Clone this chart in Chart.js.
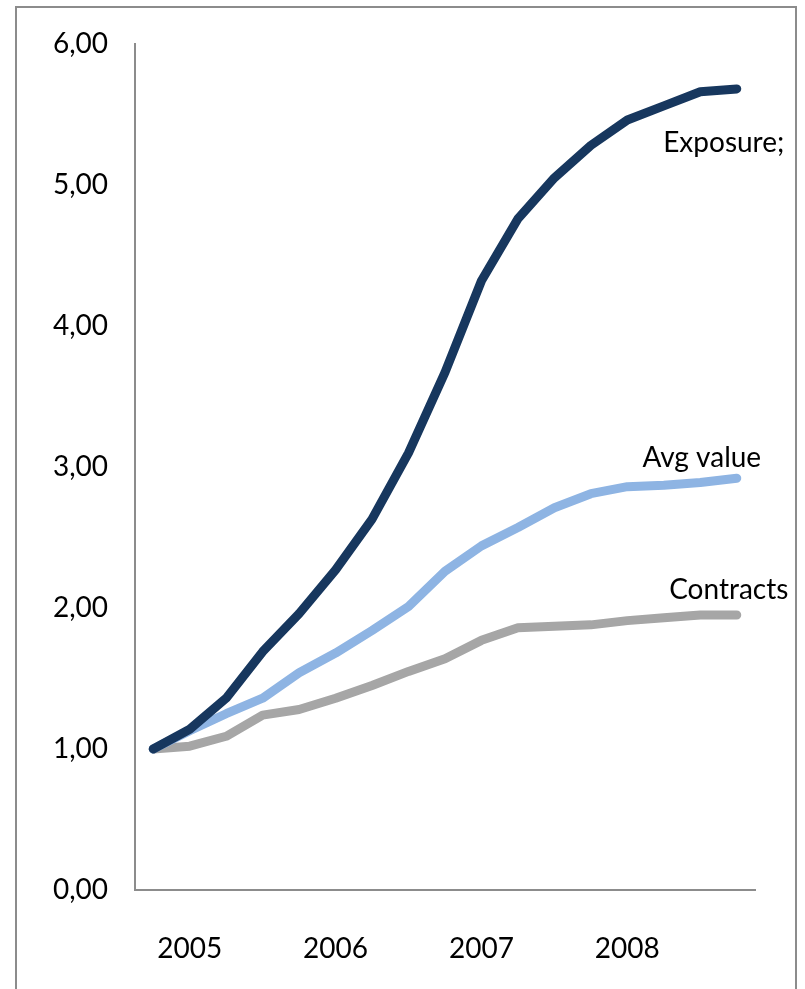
<!DOCTYPE html>
<html>
<head>
<meta charset="utf-8">
<script src="https://cdn.jsdelivr.net/npm/chart.js@4.4.1/dist/chart.umd.min.js"></script>
<style>
  html, body { margin: 0; padding: 0; background: #ffffff; overflow: hidden; }
  #wrap { position: relative; width: 805px; height: 989px; }
  #frame { position: absolute; left: 15px; top: 6px; width: 782px; height: 1000px;
           border: 2px solid #8c8c8c; box-sizing: border-box; }
  #c { position: absolute; left: 0; top: 0; }
</style>
</head>
<body>
<div id="wrap">
  <div id="frame"></div>
  <canvas id="c" width="805" height="989"></canvas>
</div>
<script>
// Quarterly periods, indexed to 1,00 at Q4 2004
const periods = [
  'Q4 2004',
  'Q1 2005', 'Q2 2005', 'Q3 2005', 'Q4 2005',
  'Q1 2006', 'Q2 2006', 'Q3 2006', 'Q4 2006',
  'Q1 2007', 'Q2 2007', 'Q3 2007', 'Q4 2007',
  'Q1 2008', 'Q2 2008', 'Q3 2008', 'Q4 2008'
];

const exposure  = [1.00, 1.14, 1.36, 1.69, 1.96, 2.27, 2.63, 3.10, 3.67, 4.32, 4.76, 5.05, 5.28, 5.46, 5.56, 5.66, 5.68];
const avgValue  = [1.00, 1.13, 1.25, 1.36, 1.54, 1.68, 1.84, 2.01, 2.26, 2.44, 2.57, 2.71, 2.81, 2.86, 2.87, 2.89, 2.92];
const contracts = [1.00, 1.02, 1.09, 1.24, 1.28, 1.36, 1.45, 1.55, 1.64, 1.77, 1.86, 1.87, 1.88, 1.91, 1.93, 1.95, 1.95];

const seriesNames = ['Exposure;', 'Avg value', 'Contracts'];
const yTicks = [0, 1, 2, 3, 4, 5, 6];

const FONT = 'Lato';
const axisGrey = '#8c8c8c';

// Writes each series name next to its last point
const endLabels = {
  id: 'endLabels',
  afterDatasetsDraw(chart) {
    const ctx = chart.ctx;
    ctx.save();
    ctx.font = '28px ' + FONT;
    ctx.fillStyle = '#000000';
    ctx.textAlign = 'center';
    ctx.textBaseline = 'alphabetic';
    chart.data.datasets.forEach((ds, i) => {
      const meta = chart.getDatasetMeta(i);
      const pt = meta.data[meta.data.length - 1];
      const off = ds.labelOffset;
      ctx.fillText(ds.label, pt.x + off[0], pt.y + off[1]);
    });
    ctx.restore();
  }
};

function lineSet(label, data, color, offset) {
  return {
    label: label,
    data: data,
    borderColor: color,
    backgroundColor: color,
    borderWidth: 9,
    borderCapStyle: 'round',
    borderJoinStyle: 'round',
    pointRadius: 0,
    tension: 0,
    labelOffset: offset
  };
}

new Chart(document.getElementById('c'), {
  type: 'line',
  data: {
    labels: periods,
    datasets: [
      lineSet(seriesNames[0], exposure,  '#17375e', [-13, 63]),
      lineSet(seriesNames[1], avgValue,  '#8eb4e3', [-35, -11]),
      lineSet(seriesNames[2], contracts, '#a6a6a6', [-8, -16])
    ]
  },
  options: {
    responsive: false,
    animation: false,
    layout: { padding: { top: 40, right: 50, left: 0, bottom: 0 } },
    plugins: {
      legend: { display: false },
      tooltip: { enabled: false }
    },
    scales: {
      x: {
        type: 'category',
        offset: true,
        grid: { display: false, drawTicks: false },
        border: { display: true, color: axisGrey, width: 2 },
        ticks: {
          autoSkip: false,
          maxRotation: 0,
          minRotation: 0,
          padding: 42,
          color: '#000000',
          font: { family: FONT, size: 28 },
          callback: function (value, index) {
            const p = periods[index];
            return p.startsWith('Q1') ? p.slice(3) : '';
          }
        },
        afterFit(scale) { scale.height = 99; }
      },
      y: {
        min: 0,
        max: 6,
        afterBuildTicks(scale) { scale.ticks = yTicks.map(v => ({ value: v })); },
        grid: { display: false, drawTicks: false },
        border: { display: true, color: axisGrey, width: 2 },
        ticks: {
          padding: 27,
          color: '#000000',
          font: { family: FONT, size: 28 },
          callback: v => v.toFixed(2).replace('.', ',')
        },
        afterFit(scale) { scale.width = 135; }
      }
    }
  },
  plugins: [endLabels]
});
</script>
</body>
</html>
